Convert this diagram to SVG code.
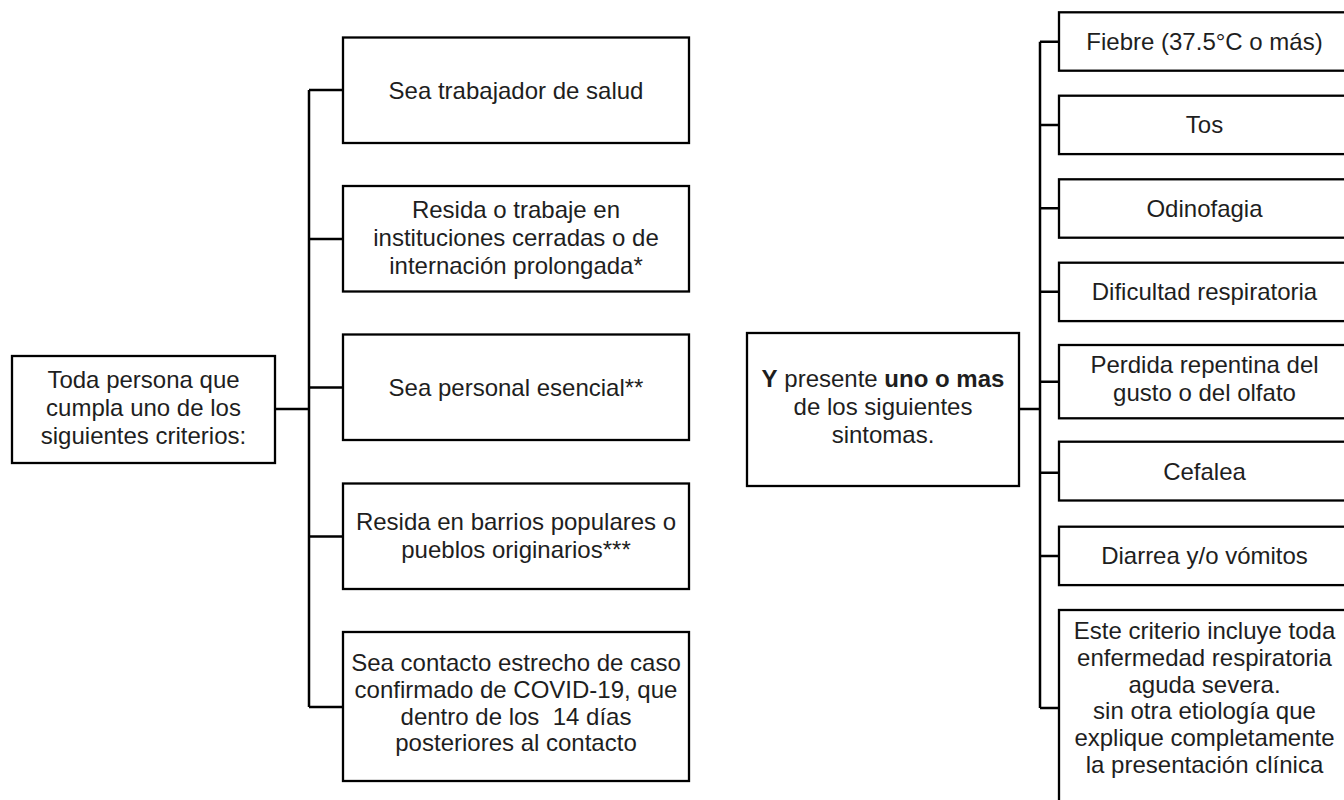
<svg xmlns="http://www.w3.org/2000/svg" width="1344" height="800" viewBox="0 0 1344 800">
<style>
.box{fill:#fff;stroke:#000;stroke-width:2.3}
.t{font-family:"Liberation Sans",Arial,sans-serif;font-size:24px;fill:#1e1e1e;text-anchor:middle}
.b{font-weight:bold}
.c{fill:none;stroke:#000;stroke-width:2.5}
</style>
<rect width="1344" height="800" fill="#fff"/>
<g id="connectors">
<path class="c" d="M275,409H309M309,90V707M309,90H343M309,239H343M309,387.5H343M309,536.5H343M309,707H343"/>
<path class="c" d="M1019,409H1040M1040,41.7V708M1040,41.7H1059M1040,125H1059M1040,208.3H1059M1040,291.7H1059M1040,381.7H1059M1040,472.7H1059M1040,556H1059M1040,708H1059"/>
</g>
<g id="root">
<rect class="box" x="12" y="356" width="263" height="107"/>
<text class="t" x="143.5" y="387.7">Toda persona que</text>
<text class="t" x="143.5" y="416">cumpla uno de los</text>
<text class="t" x="143.5" y="444.3">siguientes criterios:</text>
</g>
<g id="c1">
<rect class="box" x="343" y="37.5" width="346" height="105.5"/>
<text class="t" x="516" y="98.5">Sea trabajador de salud</text>
</g>
<g id="c2">
<rect class="box" x="343" y="186" width="346" height="105.5"/>
<text class="t" x="516" y="217.7">Resida o trabaje en</text>
<text class="t" x="516" y="246">instituciones cerradas o de</text>
<text class="t" x="516" y="274.3">internación prolongada*</text>
</g>
<g id="c3">
<rect class="box" x="343" y="334.5" width="346" height="105.5"/>
<text class="t" x="516" y="395.5">Sea personal esencial**</text>
</g>
<g id="c4">
<rect class="box" x="343" y="483.5" width="346" height="105.5"/>
<text class="t" x="516" y="529.9">Resida en barrios populares o</text>
<text class="t" x="516" y="558.2">pueblos originarios***</text>
</g>
<g id="c5">
<rect class="box" x="343" y="632" width="346" height="149"/>
<text class="t" x="516" y="671">Sea contacto estrecho de caso</text>
<text class="t" x="516" y="697.8">confirmado de COVID-19, que</text>
<text class="t" x="516" y="724.6" xml:space="preserve">dentro de los  14 días</text>
<text class="t" x="516" y="751.4">posteriores al contacto</text>
</g>
<g id="middle">
<rect class="box" x="747" y="333" width="272" height="153"/>
<text class="t" x="883" y="386.7"><tspan class="b">Y</tspan> presente <tspan class="b">uno o mas</tspan></text>
<text class="t" x="883" y="415">de los siguientes</text>
<text class="t" x="883" y="443.3">sintomas.</text>
</g>
<g id="s1">
<rect class="box" x="1059" y="12.3" width="291" height="58.4"/>
<text class="t" x="1204.5" y="50">Fiebre (37.5°C o más)</text>
</g>
<g id="s2">
<rect class="box" x="1059" y="95.7" width="291" height="58.4"/>
<text class="t" x="1204.5" y="133.3">Tos</text>
</g>
<g id="s3">
<rect class="box" x="1059" y="179.3" width="291" height="58.4"/>
<text class="t" x="1204.5" y="216.8">Odinofagia</text>
</g>
<g id="s4">
<rect class="box" x="1059" y="262.7" width="291" height="58.4"/>
<text class="t" x="1204.5" y="300.2">Dificultad respiratoria</text>
</g>
<g id="s5">
<rect class="box" x="1059" y="345" width="291" height="73.3"/>
<text class="t" x="1204.5" y="373">Perdida repentina del</text>
<text class="t" x="1204.5" y="401.3">gusto o del olfato</text>
</g>
<g id="s6">
<rect class="box" x="1059" y="441.7" width="291" height="58.8"/>
<text class="t" x="1204.5" y="479.5">Cefalea</text>
</g>
<g id="s7">
<rect class="box" x="1059" y="526.7" width="291" height="58.4"/>
<text class="t" x="1204.5" y="564.2">Diarrea y/o vómitos</text>
</g>
<g id="s8">
<rect class="box" x="1059" y="610" width="291" height="200"/>
<text class="t" x="1204.5" y="639.3">Este criterio incluye toda</text>
<text class="t" x="1204.5" y="666">enfermedad respiratoria</text>
<text class="t" x="1204.5" y="692.7">aguda severa.</text>
<text class="t" x="1204.5" y="719.4">sin otra etiología que</text>
<text class="t" x="1204.5" y="746.1">explique completamente</text>
<text class="t" x="1204.5" y="772.8">la presentación clínica</text>
</g>
</svg>
